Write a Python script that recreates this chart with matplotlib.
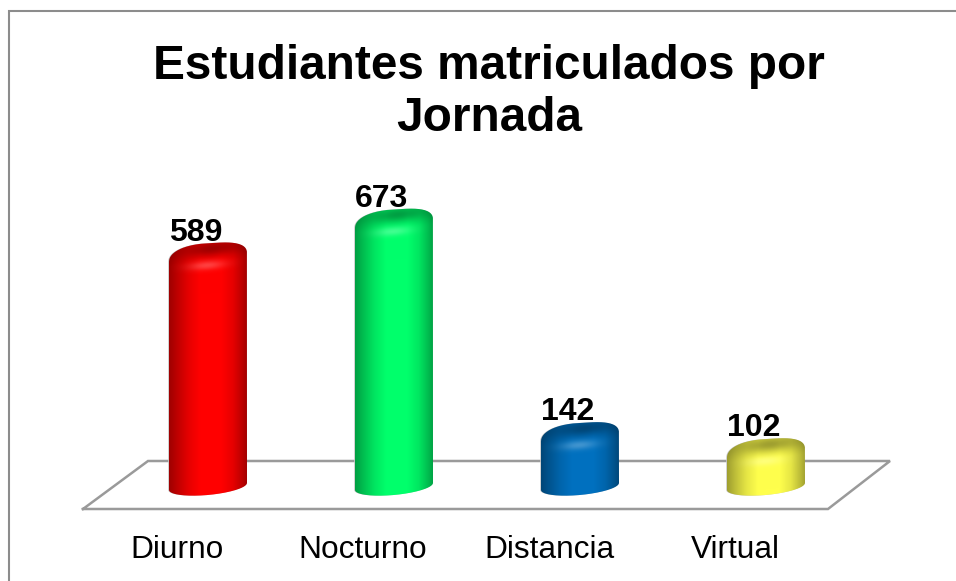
import numpy as np
import matplotlib
matplotlib.use('Agg')
import matplotlib.pyplot as plt
from matplotlib.path import Path
from matplotlib.patches import PathPatch

plt.rcParams['font.family'] = ['Liberation Sans', 'DejaVu Sans']

#chart values
jornadas = ['Diurno', 'Nocturno', 'Distancia', 'Virtual']
estudiantes = [589, 673, 142, 102]
titulo = 'Estudiantes matriculados por\nJornada'

#bright colour of each cylinder
colores = [(1.0, 0.0, 0.0), (0.0, 1.0, 0.42), (0.0, 0.44, 0.75), (1.0, 1.0, 0.3)]

#scale of the picture: 186 px between bars, 0.402 px for each student
px_x = 186.0
px_y = 0.402
x0_px = 208.0
y0_px = 479.0


def dy(p):
    return p / px_y


def dx(p):
    return p / px_x


fig = plt.figure(figsize=(9.56, 5.81), dpi=100)
ax = fig.add_axes([0, 0, 1, 1])
xmin = -x0_px / px_x
xmax = (956 - x0_px) / px_x
ymin = (y0_px - 581) / px_y
ymax = y0_px / px_y
ax.set_xlim(xmin, xmax)
ax.set_ylim(ymin, ymax)
ax.axis('off')

#border of the chart area, only left and top are visible
ax.plot([xmin + dx(9), xmin + dx(9), xmax], [ymin, ymax - dy(11), ymax - dy(11)],
        color='#8c8c8c', lw=1.5, solid_joinstyle='miter', zorder=1)

#floor of the 3d chart
piso_x = [dx(-125), dx(620), dx(682), dx(-60), dx(-125)]
piso_y = [dy(-30), dy(-30), dy(18), dy(18), dy(-30)]
ax.plot(piso_x, piso_y, color='#9a9a9a', lw=1.8, solid_joinstyle='miter', zorder=2)


def contorno(i, v):
    #outline of one cylinder, rounded on top and tilted like the original
    a = 39.0
    t = np.linspace(np.pi, 2 * np.pi, 60)
    xb = a * np.cos(t)
    yb = -7.5 + 8.5 * np.sin(t) + 3.5 * np.cos(t)
    t2 = np.linspace(0, np.pi, 80)
    c = np.cos(t2)
    s = np.sin(t2)
    xt = a * np.sign(c) * np.abs(c) ** 0.75
    yt = -15.5 + 14.5 * s ** 0.85 + 4.5 * c
    xs = np.r_[xb, xt]
    ys = np.r_[dy(yb), v + dy(yt)]
    return i + dx(xs), ys


for i, (v, col) in enumerate(zip(estudiantes, colores)):
    xs, ys = contorno(i, v)
    base = np.array(col)

    #soft grey shadow on the outline
    ax.add_patch(PathPatch(Path(np.c_[xs - dx(0.8), ys]), fc='#c8c8c8', ec='none', zorder=3))

    #shading of the cylinder: dark edges, bright centre
    ny, nx = 300, 160
    yy = np.linspace(ys.min(), ys.max(), ny)
    u = np.linspace(-1, 1, nx)
    lado = np.interp(u, [-1, -0.8, -0.5, -0.2, 0.35, 0.65, 0.88, 1],
                     [0.62, 0.74, 0.9, 1, 1, 0.9, 0.74, 0.64])
    img = base[None, None, :] * lado[None, :, None] * np.ones((ny, nx, 3))

    #dark top face and highlight below it, both measured in px from the tip
    X, Y = np.meshgrid(u * 39, (v - yy) * px_y)
    tapa = np.exp(-(((X - 4) / 28) ** 2 + ((Y - 7 + X * 0.1) / 7.5) ** 2))
    img = img * (1 - 0.32 * tapa[:, :, None])
    hombro = np.clip(1 - (Y + X * 0.1) / 20, 0, 1)
    img = img * (1 - 0.12 * hombro[:, :, None])
    brillo = np.exp(-(((X + 1) / 18) ** 2 + ((Y - 23 + X * 0.08) / 4.5) ** 2))
    img = img + (1 - img) * 0.25 * brillo[:, :, None]

    im = ax.imshow(np.clip(img, 0, 1), extent=(i - dx(39), i + dx(39), yy[0], yy[-1]),
                   origin='lower', aspect='auto', interpolation='bilinear', zorder=4)
    im.set_clip_path(PathPatch(Path(np.c_[xs, ys]), transform=ax.transData))

    #value above the cylinder
    ax.text(i - dx(12), v + dy(1.5), str(v), ha='center', va='baseline', fontsize=23,
            fontweight='bold', color='black', zorder=5)

    #category name
    ax.text(i - dx(31), dy(-70.5), jornadas[i], ha='center', va='center',
            fontsize=22.8, color='black', zorder=5)

ax.set_xlim(xmin, xmax)
ax.set_ylim(ymin, ymax)

ax.text(dx(281), dy(479 - 92.5), titulo, ha='center', va='center', fontsize=34.4, fontweight='bold',
        linespacing=1.2, color='black', zorder=5)

plt.savefig('out.png', dpi=100)
